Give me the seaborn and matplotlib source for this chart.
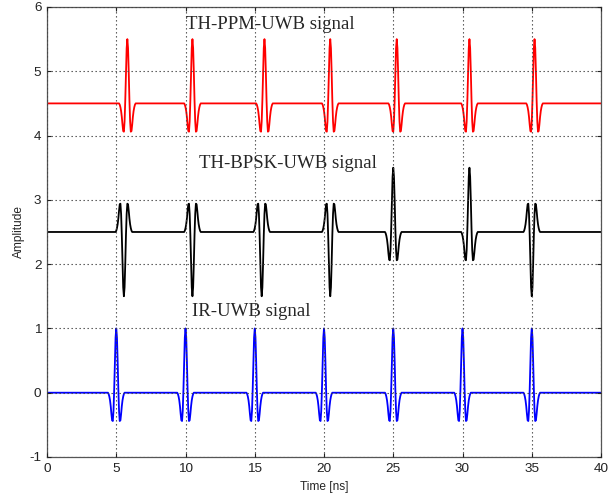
import numpy as np
import pandas as pd
import seaborn as sns
import matplotlib
matplotlib.use("Agg")
import matplotlib.pyplot as plt

# pulse template (offset in ns, normalised amplitude)
pulse_offset = [-0.6, -0.55, -0.5, -0.45, -0.4, -0.35, -0.3, -0.25, -0.2, -0.15, -0.1, -0.05,
                0.0, 0.05, 0.1, 0.15, 0.2, 0.25, 0.3, 0.35, 0.4, 0.45, 0.5, 0.55, 0.6]
pulse_shape = [0.0, -0.02, -0.06, -0.12, -0.21, -0.33, -0.43, -0.44, -0.28, 0.05, 0.49, 0.86,
               1.0, 0.86, 0.49, 0.05, -0.28, -0.44, -0.43, -0.33, -0.21, -0.12, -0.06, -0.02, 0.0]

# pulse positions (ns), polarities and vertical offsets
ir_times = [5, 10, 15, 20, 25, 30, 35]
ir_sign = [1, 1, 1, 1, 1, 1, 1]
ir_offset = 0.0

bpsk_times = [5.55, 10.5, 15.5, 20.45, 25.0, 30.5, 35.0]
bpsk_sign = [-1, -1, -1, -1, 1, 1, -1]
bpsk_offset = 2.5

ppm_times = [5.8, 10.5, 15.7, 20.45, 25.25, 30.5, 35.2]
ppm_sign = [1, 1, 1, 1, 1, 1, 1]
ppm_offset = 4.5

t_start, t_end = 0, 40


def build(name, times, signs, offset):
    t = [t_start]
    y = [offset]
    for tc, s in zip(times, signs):
        for dt, v in zip(pulse_offset, pulse_shape):
            t.append(tc + dt)
            y.append(offset + s * v)
    t.append(t_end)
    y.append(offset)
    return pd.DataFrame({"time": t, "amp": y, "signal": name})


df = pd.concat([
    build("IR", ir_times, ir_sign, ir_offset),
    build("BPSK", bpsk_times, bpsk_sign, bpsk_offset),
    build("PPM", ppm_times, ppm_sign, ppm_offset),
], ignore_index=True)

sns.set_style("white")
plt.rcParams["font.family"] = ["Liberation Sans", "DejaVu Sans"]
plt.rcParams["axes.unicode_minus"] = False

fig = plt.figure(figsize=(6.09, 4.94), dpi=100)
ax = fig.add_axes([0.0772, 0.0749, 0.9097, 0.911])

sns.lineplot(data=df, x="time", y="amp", hue="signal", units="signal", estimator=None,
             palette={"IR": "#0000ff", "BPSK": "#000000", "PPM": "#ff0000"},
             linewidth=1.3, legend=False, ax=ax)

ax.set_xlim(0, 40)
ax.set_ylim(-1, 6)
ax.set_xticks(np.arange(0, 41, 5))
ax.set_yticks(np.arange(-1, 7, 1))
ax.set_axisbelow(False)
ax.grid(True, color="#444444", linestyle=(0, (1.2, 2.4)), linewidth=0.8)
for sp in ax.spines.values():
    sp.set_color("#555555")
    sp.set_linewidth(0.9)
ax.tick_params(direction="in", length=3, labelsize=9.7, colors="#222222", pad=4,
               bottom=True, left=True, top=True, right=True,
               labeltop=False, labelright=False)
ax.set_xlabel("Time [ns]", fontsize=8.6, labelpad=5)
ax.set_ylabel("Amplitude", fontsize=8.6, labelpad=3)

serif = ["Liberation Serif", "DejaVu Serif"]
ax.text(10.0, 5.66, "TH-PPM-UWB signal", family=serif, fontsize=13.5, va="baseline")
ax.text(11.0, 3.50, "TH-BPSK-UWB signal", family=serif, fontsize=13.5, va="baseline")
ax.text(10.45, 1.19, "IR-UWB signal", family=serif, fontsize=13.5, va="baseline")

fig.savefig("out.png", dpi=100)
